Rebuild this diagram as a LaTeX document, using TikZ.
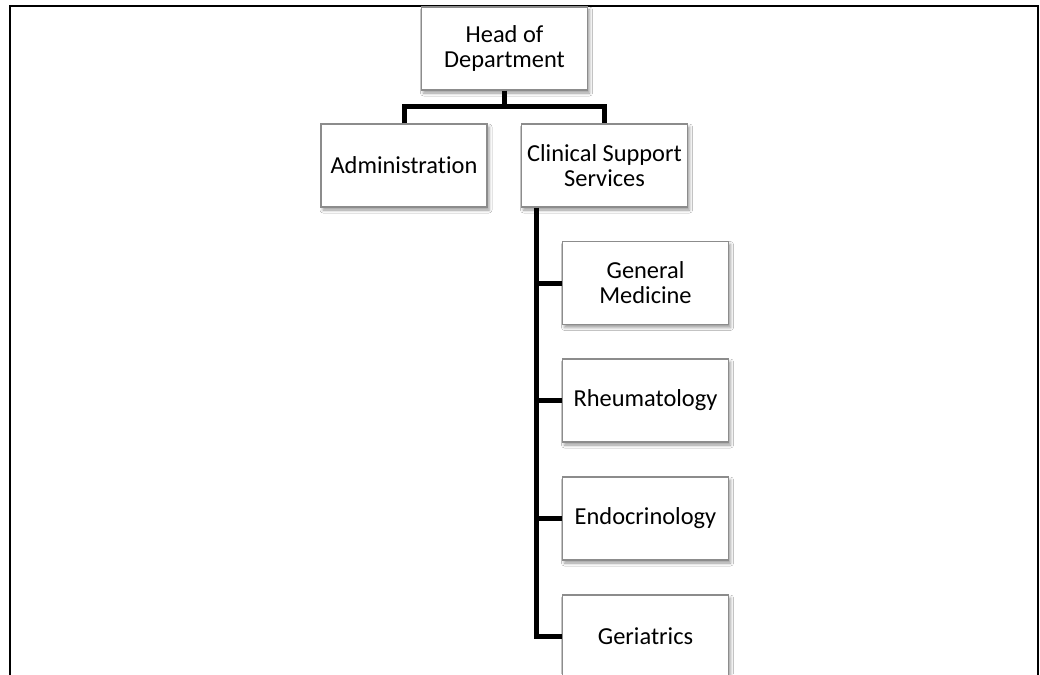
\documentclass[tikz,border=0pt]{standalone}
\usepackage{fontspec}
\setmainfont{Carlito}[Ligatures=NoCommon]
\usetikzlibrary{shadows.blur}
\begin{document}
\begin{tikzpicture}[x=1pt,y=-1pt,
  orgbox/.style={draw=black!45, line width=1.2pt, fill=white,
    minimum width=166pt, minimum height=83pt, inner sep=0pt,
    align=center,
    font=\fontsize{24.4pt}{25pt}\selectfont,
    blur shadow={shadow xshift=2pt, shadow yshift=-3pt,
      shadow blur radius=3pt, shadow opacity=40}},
  link/.style={line width=5pt, draw=black},
  framepen/.style={line width=2pt, draw=black}]
  \useasboundingbox (0,0) rectangle (1040,674);
  \clip (0,0) rectangle (1040,674);
  \fill[white] (0,0) rectangle (1040,674);

  % outer frame, open at the bottom
  \draw[framepen] (10,700) -- (10,6) -- (1038,6) -- (1038,700);

  % level of the horizontal bar under the head
  \coordinate (barl) at (404,107);
  \coordinate (barr) at (604.5,107);

  % boxes
  \node[orgbox] (head)  at (504.5,48.5) {Head of\\Department};
  \node[orgbox] (admin) at (404,165.5)  {Administration};
  \node[orgbox] (clin)  at (604.5,165.5) {Clinical Support\\Services};
  \node[orgbox] (gm)    at (645.5,283)   {General\\Medicine};
  \node[orgbox] (rheum) at (645.5,400.5) {Rheumatology};
  \node[orgbox] (endo)  at (645.5,518.5) {Endocrinology};
  \node[orgbox] (geri)  at (645.5,636.5) {Geriatrics};

  % head to the first level
  \draw[link] (head.south) -- (head.south |- barl);
  \draw[link] (admin.north) |- (barl) -- (barr) -| (clin.north);

  % trunk under Clinical Support Services
  \coordinate (trunktop) at ([xshift=16pt]clin.south west);
  \draw[link] (trunktop) |- (geri.west);
  \draw[link] (trunktop |- gm.west) -- (gm.west);
  \draw[link] (trunktop |- rheum.west) -- (rheum.west);
  \draw[link] (trunktop |- endo.west) -- (endo.west);
\end{tikzpicture}
\end{document}
